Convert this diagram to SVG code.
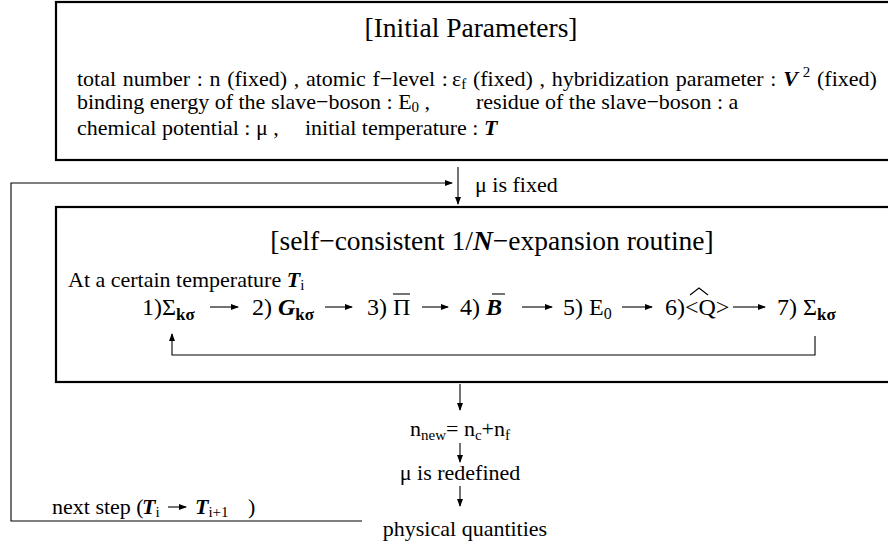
<svg xmlns="http://www.w3.org/2000/svg" width="888" height="544" viewBox="0 0 888 544">
<style>
.t{font-family:"Liberation Serif","Times New Roman",serif;font-size:22px;fill:#000}
.title{font-size:27.5px}
.row{font-size:24px}
.bi{font-weight:bold;font-style:italic}
.b{font-weight:bold}
.box{fill:#fff;stroke:#000;stroke-width:2.2}
.ln{fill:none;stroke:#000;stroke-width:1.1}
</style>
<defs>
<marker id="ah" markerWidth="8" markerHeight="6" refX="7" refY="3" orient="auto" markerUnits="userSpaceOnUse">
<path d="M0,0 L8,3 L0,6 z" fill="#000"/>
</marker>
</defs>
<rect width="888" height="544" fill="#fff"/>

<g id="initial-parameters">
<rect class="box" x="56" y="2" width="860" height="158"/>
<text class="t title" x="471" y="37" text-anchor="middle">[Initial Parameters]</text>
<text class="t" x="77" y="86" word-spacing="1.2">total number : n (fixed) , atomic f−level :</text>
<text class="t" x="452" y="86" word-spacing="1.2">ε<tspan font-size="15" dy="3">f</tspan><tspan dy="-3">  (fixed) ,  hybridization parameter : </tspan><tspan class="bi">V</tspan><tspan font-size="15" dy="-9"> 2</tspan><tspan dy="9">  (fixed)</tspan></text>
<text class="t" x="77" y="109">binding energy of the slave−boson : E<tspan font-size="15" dy="3">0</tspan><tspan dy="-3"> ,</tspan></text>
<text class="t" x="476" y="109">residue of the slave−boson : a</text>
<text class="t" x="77" y="135">chemical potential : μ ,</text>
<text class="t" x="305" y="135">initial temperature : <tspan class="bi">T</tspan></text>
</g>

<g id="mu-fixed">
<text class="t" x="475" y="192">μ is fixed</text>
</g>

<g id="expansion-routine">
<rect class="box" x="56" y="207" width="860" height="175"/>
<text class="t title" x="492" y="250" text-anchor="middle">[self−consistent 1/<tspan class="bi">N</tspan>−expansion routine]</text>
<text class="t" x="68" y="287">At a certain temperature <tspan class="bi">T</tspan><tspan font-size="15" dy="3">i</tspan></text>
<g id="step1"><text class="t row" x="142" y="315">1)Σ<tspan class="b" font-size="17" dy="5">kσ</tspan></text></g>
<g id="step2"><text class="t row" x="252" y="315">2) <tspan class="bi">G</tspan><tspan class="b" font-size="17" dy="5">kσ</tspan></text></g>
<g id="step3"><text class="t row" x="367" y="315">3) Π</text><line class="ln" x1="393" y1="294" x2="410" y2="294" stroke-width="1.5"/></g>
<g id="step4"><text class="t row" x="460" y="315">4) <tspan class="bi">B</tspan></text><line class="ln" x1="492" y1="294" x2="505" y2="294" stroke-width="1.5"/></g>
<g id="step5"><text class="t row" x="563" y="315">5) E<tspan font-size="16" dy="4">0</tspan></text></g>
<g id="step6"><text class="t row" x="665" y="315">6)&lt;Q&gt;</text><polyline class="ln" points="690,295 699,288 708,295"/></g>
<g id="step7"><text class="t row" x="777" y="315">7) Σ<tspan class="b" font-size="17" dy="5">kσ</tspan></text></g>
</g>

<g id="n-new">
<text class="t" x="460" y="436" text-anchor="middle">n<tspan font-size="15" dy="4">new</tspan><tspan dy="-4">= n</tspan><tspan font-size="15" dy="4">c</tspan><tspan dy="-4">+n</tspan><tspan font-size="15" dy="4">f</tspan></text>
</g>
<g id="mu-redefined">
<text class="t" x="460" y="480" text-anchor="middle">μ is redefined</text>
</g>
<g id="physical-quantities">
<text class="t" x="465" y="536" text-anchor="middle">physical quantities</text>
</g>
<g id="next-step-label">
<text class="t" x="52" y="514">next step (</text>
<text class="t" x="142" y="514"><tspan class="bi">T</tspan><tspan font-size="15" dy="3">i</tspan></text>
<line class="ln" x1="168" y1="507" x2="186" y2="507" marker-end="url(#ah)"/>
<text class="t" x="195" y="514"><tspan class="bi">T</tspan><tspan font-size="15" dy="3">i+1</tspan></text>
<text class="t" x="248" y="514">)</text>
</g>

<g id="connectors">
<polyline class="ln" points="362,521 11,521 11,183 452,183" marker-end="url(#ah)"/>
<line class="ln" x1="458" y1="167" x2="458" y2="204" marker-end="url(#ah)"/>
<line class="ln" x1="460" y1="384" x2="460" y2="410" marker-end="url(#ah)"/>
<line class="ln" x1="460" y1="443" x2="460" y2="462" marker-end="url(#ah)"/>
<line class="ln" x1="460" y1="486" x2="460" y2="506" marker-end="url(#ah)"/>
<polyline class="ln" points="815,336 815,355 172,355 172,334" marker-end="url(#ah)"/>
<line class="ln" x1="210" y1="307" x2="238" y2="307" marker-end="url(#ah)"/>
<line class="ln" x1="325" y1="307" x2="352" y2="307" marker-end="url(#ah)"/>
<line class="ln" x1="422" y1="307" x2="448" y2="307" marker-end="url(#ah)"/>
<line class="ln" x1="522" y1="307" x2="552" y2="307" marker-end="url(#ah)"/>
<line class="ln" x1="622" y1="307" x2="652" y2="307" marker-end="url(#ah)"/>
<line class="ln" x1="733" y1="307" x2="765" y2="307" marker-end="url(#ah)"/>
</g>
</svg>
